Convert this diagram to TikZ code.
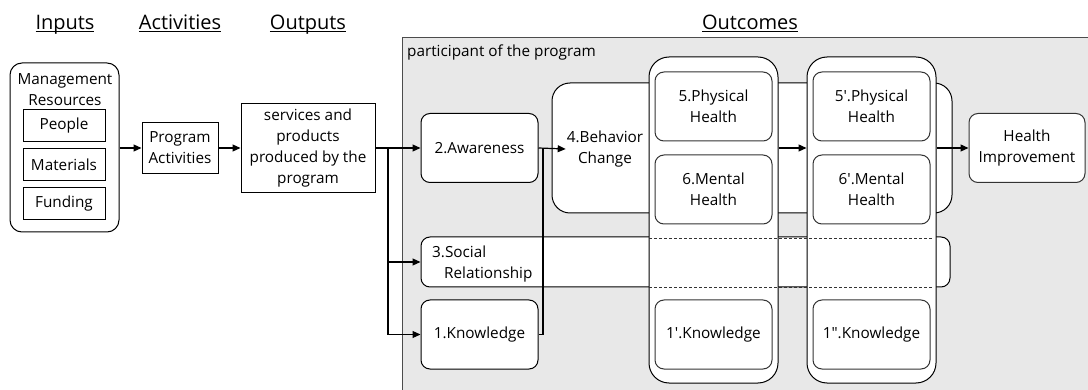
\documentclass[tikz,border=0pt]{standalone}
\usepackage{fontspec}
\setmainfont{Open Sans}
\usetikzlibrary{arrows.meta}
\newcommand{\hul}[1]{\underline{\smash{#1}}}
\tikzset{
  bx/.style={draw=black, line width=1pt, fill=white, align=center, inner sep=0pt,
    font=\fontsize{15.3}{21}\selectfont},
  rbx/.style={bx, rounded corners=9pt},
  ibx/.style={bx, draw=black!80, rounded corners=9pt},
  head/.style={font=\fontsize{20}{24}\selectfont, inner sep=0pt, anchor=base},
  txt/.style={font=\fontsize{15.3}{21}\selectfont, align=center, inner sep=1pt},
  conn/.style={line width=1.2pt, draw=black},
  arr/.style={conn, -{Triangle[length=8pt,width=7pt]}},
}
\begin{document}
\begin{tikzpicture}[x=1pt,y=-1pt]
\useasboundingbox (0,0) rectangle (1088,390);
% participant area
\fill[black!9] (402,38) rectangle (1088,390);
\draw[black!70, line width=1pt] (1088,38) -- (402,38) -- (402,390);
\node[txt, anchor=west] (part) at (406,52) {participant of the program};
% headings
\node[head] (hin) at (65,30) {\hul{Inputs}};
\node[head] (hact) at (180,30) {\hul{Activities}};
\node[head] (hout) at (308,30) {\hul{Outputs}};
\node[head] (hoc) at (750,30) {\hul{Outcomes}};
% inputs
\node[rbx, rounded corners=12pt, minimum width=109pt, minimum height=169pt] (mr) at (64.5,147.5) {};
\node[txt] (mrt) at (65,90) {Management\\Resources};
\node[bx, minimum width=82pt, minimum height=32pt] (people) at (64,126) {People};
\node[bx, minimum width=82pt, minimum height=32pt] (mat) at (64,165) {Materials};
\node[bx, minimum width=82pt, minimum height=32pt] (fund) at (64,204) {Funding};
% activities
\node[bx, minimum width=76pt, minimum height=51pt] (pa) at (180,148) {Program\\Activities};
% outputs
\node[bx, minimum width=134pt, minimum height=89pt] (svc) at (308,148) {services and\\products\\produced by the\\program};
% outcomes background boxes
\node[rbx, rounded corners=18pt, minimum width=400pt, minimum height=130pt] (beh) at (752,148) {};
\node[txt] (beht) at (605,149) {4.Behavior\\Change};
\node[rbx, minimum width=529pt, minimum height=50pt] (soc) at (685.5,262) {};
\node[txt, anchor=west, align=left] (soct) at (431,264) {3.Social\\\hspace{12pt}Relationship};
\node[rbx, minimum width=117pt, minimum height=69pt] (aw) at (479.5,148) {2.Awareness};
\node[rbx, minimum width=117pt, minimum height=69pt] (kn) at (479.5,334.5) {1.Knowledge};
% connectors left
\coordinate (br) at (388,148);
\coordinate (jn) at (543,148);
\draw[arr] (svc.east) -- (aw.west);
\draw[arr] (br) |- (kn.west);
\draw[arr] (br |- soc.west) -- (soc.west);
\draw[conn] (kn.east) -| (jn);
\draw[arr] (aw.east) -- (beht.west);
% columns
\node[rbx, rounded corners=20pt, minimum width=129pt, minimum height=326pt] (col1) at (713.5,220) {};
\node[rbx, rounded corners=20pt, minimum width=129pt, minimum height=326pt] (col2) at (871.5,220) {};
\coordinate (dl1) at (649,238);
\coordinate (dr1) at (933,238);
\coordinate (dl2) at (649,287);
\coordinate (dr2) at (933,287);
\draw[black!80, line width=0.8pt, dash pattern=on 3pt off 2pt] (dl1) -- (dr1);
\draw[black!80, line width=0.8pt, dash pattern=on 3pt off 2pt] (dl2) -- (dr2);
\node[ibx, minimum width=117pt, minimum height=69pt] (ph1) at (713.5,106.5) {5.Physical\\Health};
\node[ibx, minimum width=117pt, minimum height=69pt] (mh1) at (713.5,189.5) {6.Mental\\Health};
\node[ibx, minimum width=117pt, minimum height=69pt] (k1) at (713.5,334.5) {1\textquotesingle.Knowledge};
\node[ibx, minimum width=117pt, minimum height=69pt] (ph2) at (871.5,106.5) {5\textquotesingle.Physical\\Health};
\node[ibx, minimum width=117pt, minimum height=69pt] (mh2) at (871.5,189.5) {6\textquotesingle.Mental\\Health};
\node[ibx, minimum width=117pt, minimum height=69pt] (k2) at (871.5,334.5) {1\textquotedbl.Knowledge};
\node[ibx, minimum width=116pt, minimum height=69pt] (hi) at (1027,148) {Health\\Improvement};
% connectors
\draw[arr] (mr.east |- pa.west) -- (pa.west);
\draw[arr] (pa.east) -- (svc.west |- pa.east);
\draw[arr] (col1.east |- hi.west) -- (col2.west |- hi.west);
\draw[arr] (col2.east |- hi.west) -- (hi.west);
\end{tikzpicture}
\end{document}
